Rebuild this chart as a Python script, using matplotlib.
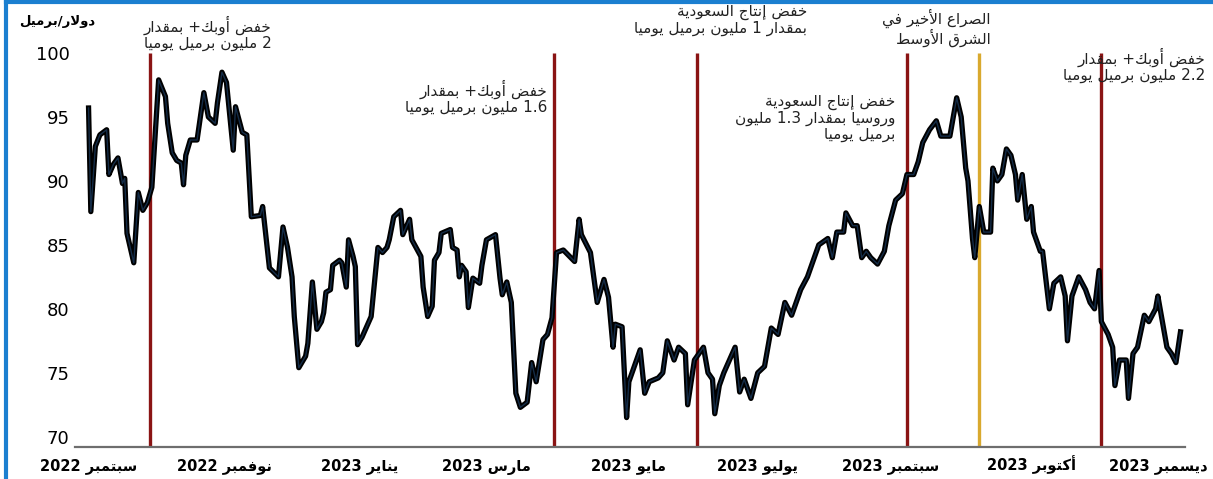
import re
import pandas as pd
import matplotlib.pyplot as plt
from matplotlib.lines import Line2D

# Brent price, $/barrel; days counted from the first point of the series
start = '2022-09-08'
days = [0, 1, 3, 5, 8, 9, 11, 13, 15, 16, 17, 20, 22, 24, 26, 28, 31, 34, 35, 37,
        39, 41, 42, 43, 45, 48, 51, 53, 56, 57, 59, 61, 64, 65, 68, 70, 72, 76, 77, 79,
        80, 84, 86, 88, 90, 91, 93, 96, 97, 99, 101, 103, 104, 105, 107, 108, 111, 112, 114, 115,
        117, 118, 119, 121, 125, 128, 130, 132, 133, 135, 138, 139, 142, 143, 147, 148, 150, 152, 153, 155,
        156, 160, 161, 163, 164, 165, 167, 168, 170, 173, 174, 176, 180, 182, 183, 185, 187, 189, 191, 194,
        196, 198, 201, 203, 205, 207, 210, 215, 217, 218, 222, 225, 228, 230, 232, 233, 236, 238, 239, 244,
        246, 248, 252, 254, 256, 259, 261, 264, 265, 268, 272, 274, 276, 277, 279, 281, 286, 288, 290, 293,
        296, 299, 302, 305, 308, 311, 313, 315, 318, 321, 323, 327, 329, 331, 334, 335, 338, 340, 342, 344,
        346, 349, 352, 354, 357, 360, 362, 365, 367, 369, 372, 375, 377, 381, 384, 386, 388, 389, 391, 392,
        394, 396, 399, 400, 402, 404, 406, 408, 410, 411, 413, 415, 417, 418, 421, 422, 425, 427, 430, 432,
        433, 435, 438, 441, 443, 445, 447, 448, 451, 453, 454, 456, 459, 460, 462, 464, 467, 469, 472, 473,
        476, 477, 479, 481, 483]
brent = [95.7, 87.6, 92.7, 93.6, 94.0, 90.5, 91.3, 91.8, 89.8, 90.2, 85.9, 83.6, 89.1, 87.7, 88.3, 89.5, 97.9, 96.6, 94.5, 92.2,
         91.6, 91.4, 89.7, 92.0, 93.2, 93.2, 96.9, 95.0, 94.5, 96.1, 98.5, 97.7, 92.4, 95.8, 93.8, 93.6, 87.2, 87.3, 88.0, 84.8,
         83.2, 82.5, 86.4, 84.8, 82.5, 79.4, 75.4, 76.3, 77.3, 82.1, 78.4, 79.0, 79.7, 81.3, 81.5, 83.4, 83.8, 83.6, 81.7, 85.4,
         84.1, 83.3, 77.2, 77.8, 79.4, 84.8, 84.4, 84.8, 85.4, 87.2, 87.7, 85.8, 87.0, 85.4, 84.1, 81.7, 79.4, 80.2, 83.8, 84.4,
         85.9, 86.2, 84.8, 84.6, 82.5, 83.4, 82.9, 80.1, 82.4, 82.0, 83.4, 85.4, 85.8, 82.4, 81.1, 82.1, 80.5, 73.4, 72.3, 72.7,
         75.8, 74.3, 77.6, 78.0, 79.3, 84.4, 84.6, 83.7, 87.0, 85.8, 84.4, 80.5, 82.3, 80.9, 77.0, 78.8, 78.6, 71.5, 74.3, 76.8,
         73.4, 74.3, 74.6, 75.0, 77.5, 76.0, 77.0, 76.5, 72.5, 76.0, 77.0, 75.0, 74.5, 71.8, 74.0, 75.0, 77.0, 73.5, 74.5, 73.0,
         75.0, 75.5, 78.5, 78.0, 80.5, 79.5, 80.5, 81.5, 82.5, 84.0, 85.0, 85.5, 84.0, 86.0, 86.0, 87.5, 86.5, 86.5, 84.0, 84.5,
         84.0, 83.5, 84.5, 86.5, 88.5, 89.0, 90.5, 90.5, 91.5, 93.0, 94.0, 94.7, 93.5, 93.5, 96.5, 95.0, 91.0, 90.0, 85.5, 84.0,
         88.0, 86.0, 86.0, 91.0, 90.0, 90.5, 92.5, 92.0, 90.5, 88.5, 90.5, 87.0, 88.0, 86.0, 84.5, 84.5, 80.0, 82.0, 82.5, 81.0,
         77.5, 81.0, 82.5, 81.5, 80.5, 80.0, 83.0, 79.0, 78.0, 77.0, 74.0, 76.0, 76.0, 73.0, 76.5, 77.0, 79.5, 79.0, 80.0, 81.0,
         78.0, 77.0, 76.5, 75.8, 78.2]

event_dates = ['2022-10-05', '2023-04-02', '2023-06-04', '2023-09-05', '2023-10-07', '2023-11-30']
event_kind = ['cut', 'cut', 'cut', 'cut', 'war', 'cut']
event_labels = [
    'خفض أوبك+ بمقدار\n2 مليون برميل يوميا',
    'خفض أوبك+ بمقدار\n1.6 مليون برميل يوميا',
    'خفض إنتاج السعودية\nبمقدار 1 مليون برميل يوميا',
    'خفض إنتاج السعودية\nوروسيا بمقدار 1.3 مليون\nبرميل يوميا',
    'الصراع الأخير في\nالشرق الأوسط',
    'خفض أوبك+ بمقدار\n2.2 مليون برميل يوميا',
]

tick_dates = ['2022-09-08', '2022-11-07', '2023-01-06', '2023-03-03', '2023-05-05',
              '2023-07-01', '2023-08-29', '2023-10-30', '2023-12-25']
tick_labels = ['سبتمبر 2022', 'نوفمبر 2022', 'يناير 2023', 'مارس 2023', 'مايو 2023',
               'يوليو 2023', 'سبتمبر 2023', 'أكتوبر 2023', 'ديسمبر 2023']
y_ticks = [70, 75, 80, 85, 90, 95, 100]
y_unit = 'دولار/برميل'

# where each event note sits: anchor date, top value, alignment
label_layout = [('2022-11-28', 102.9, 'right'), ('2023-03-30', 97.9, 'right'),
                ('2023-07-23', 103.75, 'right'), ('2023-08-31', 96.7, 'right'),
                ('2023-09-18', 103.5, 'center'), ('2024-01-15', 100.4, 'right')]

# matplotlib has no arabic shaping, so pick presentation forms by hand
# forms: isolated, final, initial, medial
FORMS = {
    'ء': ('\uFE80',),
    'آ': ('\uFE81', '\uFE82'), 'أ': ('\uFE83', '\uFE84'), 'إ': ('\uFE87', '\uFE88'),
    'ا': ('\uFE8D', '\uFE8E'), 'ة': ('\uFE93', '\uFE94'), 'د': ('\uFEA9', '\uFEAA'),
    'ذ': ('\uFEAB', '\uFEAC'), 'ر': ('\uFEAD', '\uFEAE'), 'ز': ('\uFEAF', '\uFEB0'),
    'و': ('\uFEED', '\uFEEE'), 'ى': ('\uFEEF', '\uFEF0'),
    'ب': ('\uFE8F', '\uFE90', '\uFE91', '\uFE92'), 'ت': ('\uFE95', '\uFE96', '\uFE97', '\uFE98'),
    'ث': ('\uFE99', '\uFE9A', '\uFE9B', '\uFE9C'), 'ج': ('\uFE9D', '\uFE9E', '\uFE9F', '\uFEA0'),
    'ح': ('\uFEA1', '\uFEA2', '\uFEA3', '\uFEA4'), 'خ': ('\uFEA5', '\uFEA6', '\uFEA7', '\uFEA8'),
    'س': ('\uFEB1', '\uFEB2', '\uFEB3', '\uFEB4'), 'ش': ('\uFEB5', '\uFEB6', '\uFEB7', '\uFEB8'),
    'ص': ('\uFEB9', '\uFEBA', '\uFEBB', '\uFEBC'), 'ض': ('\uFEBD', '\uFEBE', '\uFEBF', '\uFEC0'),
    'ط': ('\uFEC1', '\uFEC2', '\uFEC3', '\uFEC4'), 'ظ': ('\uFEC5', '\uFEC6', '\uFEC7', '\uFEC8'),
    'ع': ('\uFEC9', '\uFECA', '\uFECB', '\uFECC'), 'غ': ('\uFECD', '\uFECE', '\uFECF', '\uFED0'),
    'ف': ('\uFED1', '\uFED2', '\uFED3', '\uFED4'), 'ق': ('\uFED5', '\uFED6', '\uFED7', '\uFED8'),
    'ك': ('\uFED9', '\uFEDA', '\uFEDB', '\uFEDC'), 'ل': ('\uFEDD', '\uFEDE', '\uFEDF', '\uFEE0'),
    'م': ('\uFEE1', '\uFEE2', '\uFEE3', '\uFEE4'), 'ن': ('\uFEE5', '\uFEE6', '\uFEE7', '\uFEE8'),
    'ه': ('\uFEE9', '\uFEEA', '\uFEEB', '\uFEEC'), 'ي': ('\uFEF1', '\uFEF2', '\uFEF3', '\uFEF4'),
}
LAM_ALEF = {'آ': ('\uFEF5', '\uFEF6'), 'أ': ('\uFEF7', '\uFEF8'),
            'إ': ('\uFEF9', '\uFEFA'), 'ا': ('\uFEFB', '\uFEFC')}


def dual(c):
    return c in FORMS and len(FORMS[c]) == 4


def shape_line(line):
    out = []
    i = 0
    while i < len(line):
        c = line[i]
        if c not in FORMS:
            out.append(c)
            i += 1
            continue
        after_join = i > 0 and dual(line[i - 1])
        if c == 'ل' and i + 1 < len(line) and line[i + 1] in LAM_ALEF:
            out.append(LAM_ALEF[line[i + 1]][1 if after_join else 0])
            i += 2
            continue
        before_join = dual(c) and i + 1 < len(line) and line[i + 1] in FORMS
        f = FORMS[c]
        if len(f) == 1:
            g = f[0]
        elif after_join and before_join:
            g = f[3]
        elif after_join:
            g = f[1]
        elif before_join:
            g = f[2]
        else:
            g = f[0]
        out.append(g)
        i += 1
    # right to left, but numbers keep their own order
    runs = re.findall(r'[0-9.]+|[^0-9.]+', ''.join(out))
    return ''.join(r if r[0].isdigit() else r[::-1] for r in reversed(runs))


def ar(text):
    return '\n'.join(shape_line(l) for l in text.split('\n'))


dates = pd.Timestamp(start) + pd.to_timedelta(days, unit='D')
plt.rcParams['font.family'] = ['DejaVu Sans']

fig = plt.figure(figsize=(12.13, 4.79), dpi=100)
ax = fig.add_axes([75 / 1213, 32 / 479, 1110 / 1213, 394 / 479])

ymin = 69.2
for d, kind in zip(event_dates, event_kind):
    col = '#d9a92e' if kind == 'war' else '#8a1414'
    ax.vlines(pd.Timestamp(d), ymin, 100, color=col, lw=2.4, zorder=1)

ax.plot(dates, brent, color='black', lw=3.8, solid_joinstyle='round', zorder=3)
ax.plot(dates, brent, color='#1d3f66', lw=1.0, alpha=0.7, zorder=4)

for txt, (d, y, ha) in zip(event_labels, label_layout):
    ax.text(pd.Timestamp(d), y, ar(txt), ha=ha, va='top', multialignment='right',
            fontsize=11, color='#222222', linespacing=1.05, clip_on=False)

ax.set_ylim(ymin, 100)
ax.set_xlim(pd.Timestamp(start) - pd.Timedelta(days=6), pd.Timestamp(start) + pd.Timedelta(days=485))
ax.set_yticks(y_ticks)
ax.set_yticklabels([str(v) for v in y_ticks], fontsize=13)
ax.set_xticks([pd.Timestamp(d) for d in tick_dates])
ax.set_xticklabels([ar(t) for t in tick_labels], fontsize=10.5, fontweight='bold', va='baseline')
ax.tick_params(axis='both', length=0)
ax.tick_params(axis='y', pad=4)
ax.tick_params(axis='x', pad=17)

for s in ['top', 'right', 'left']:
    ax.spines[s].set_visible(False)
ax.spines['bottom'].set_color('#6e6e6e')
ax.spines['bottom'].set_linewidth(1.6)

fig.text(95 / 1213, 1 - 22 / 479, ar(y_unit), ha='right', va='center', fontsize=9.5, fontweight='bold')

# blue frame on the left and top edge
fig.add_artist(Line2D([6 / 1213, 6 / 1213], [0, 1], color='#1b7fd0', lw=3))
fig.add_artist(Line2D([6 / 1213, 1], [1 - 1.5 / 479, 1 - 1.5 / 479], color='#1b7fd0', lw=3))

fig.savefig('out.png', dpi=100)
